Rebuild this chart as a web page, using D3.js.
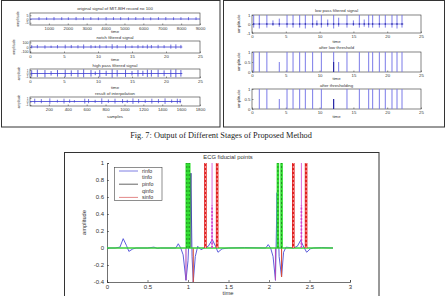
<!DOCTYPE html>
<html>
<head>
<meta charset="utf-8">
<script src="https://cdn.jsdelivr.net/npm/d3@7"></script>
<style>
  body { margin: 0; background: #fff; }
  svg { display: block; }
</style>
</head>
<body>
<svg width="447" height="296"></svg>
<script>
// ---------- data ----------
// original record (samples)
const origBeats = [476, 880, 1270, 1680, 2030, 2440, 2830, 3220, 3620, 4030, 4420, 4800, 5210, 5600, 6000, 6390, 6800, 7190, 7600, 7990, 8390, 8790];
const origHi = [2.5, 2.2, 2.6, 2.4, 2.3, 2.7, 2.4, 2.5, 2.2, 2.6, 2.4, 2.5, 2.3, 2.6, 2.4, 2.2, 2.5, 2.6, 2.3, 2.4, 2.5, 2.4];
const origLo = [-1.5, -1.2, -1.6, -1.4, -1.3, -1.5, -1.4, -1.2, -1.5, -1.6, -1.3, -1.4, -1.5, -1.3, -1.4, -1.6, -1.2, -1.5, -1.4, -1.3, -1.5, -1.4];

// beat times (s) of the filtered signals
const beatTimes = [0.25, 1.08, 2.2, 3.1, 4.04, 5.18, 6.07, 7.05, 7.89, 8.97, 9.6, 10.26, 11.2, 12.08, 12.82, 14.05, 15.0, 15.88, 16.6, 17.26, 17.85, 18.84, 19.72, 20.71, 21.45, 22.19];
const notchHi = [40, 45, 38, 30, 42, 50, 44, 40, 55, 42, 30, 46, 35, 60, 44, 48, 32, 45, 34, 50, 43, 47, 41, 52, 58, 45];
const notchLo = [-30, -28, -35, -20, -30, -32, -25, -30, -40, -28, -22, -30, -25, -45, -30, -33, -22, -30, -24, -35, -28, -30, -26, -36, -40, -30];
const hpHi = [0.9, 1.1, 1.0, 0.7, 1.0, 1.1, 0.9, 1.0, 1.2, 1.0, 0.6, 1.0, 0.8, 1.2, 1.0, 1.1, 0.7, 1.0, 0.8, 1.1, 1.0, 1.1, 0.9, 1.1, 1.2, 1.0];
const hpLo = [-0.9, -1.0, -1.1, -0.6, -0.9, -1.0, -0.8, -1.0, -1.1, -0.9, -0.5, -1.0, -0.7, -1.2, -0.9, -1.0, -0.6, -0.9, -0.7, -1.0, -0.9, -1.0, -0.8, -1.0, -1.1, -0.9];
const lpHi = [1.0, 1.0, 1.0, 0.4, 0.6, 1.0, 1.0, 1.0, 1.0, 1.0, 0.4, 1.0, 0.5, 1.0, 0.7, 1.0, 0.4, 1.0, 0.5, 1.0, 1.0, 1.0, 1.0, 1.0, 1.0, 1.0];
const lpLo = [-0.4, -0.5, -0.4, -0.2, -0.3, -0.4, -0.4, -0.4, -0.5, -0.4, -0.2, -0.4, -0.3, -0.5, -0.3, -0.4, -0.2, -0.4, -0.3, -0.4, -0.4, -0.4, -0.4, -0.4, -0.5, -0.4];

// interpolated signal (samples)
const interpBeats = [50, 120, 210, 290, 360, 420, 470, 580, 620, 690, 760, 830, 900, 980, 1030, 1090, 1150, 1220, 1290, 1360, 1430, 1500, 1560, 1590];
const interpHi = [0.8, 0.7, 0.9, 0.5, 0.8, 0.6, 0.4, 0.8, 0.7, 0.5, 0.9, 0.6, 0.8, 0.7, 0.5, 0.9, 0.7, 0.6, 0.8, 0.7, 0.9, 0.6, 0.8, 0.7];
const interpLo = [-0.6, -0.5, -0.7, -0.3, -0.6, -0.4, -0.3, -0.6, -0.5, -0.4, -0.7, -0.4, -0.6, -0.5, -0.4, -0.7, -0.5, -0.4, -0.6, -0.5, -0.7, -0.4, -0.6, -0.5];

// detections
const lowThrT = [0.25, 1.08, 2.2, 4.04, 5.18, 6.07, 7.05, 7.89, 8.97, 10.26, 12.08, 12.82, 14.05, 15.88, 17.26, 17.85, 18.84, 19.72, 20.71, 21.45, 22.19];
const lowThrV = [1, 1, 1, 0.5, 1, 1, 1, 1, 1, 1, 1, 0.5, 1, 1, 1, 1, 1, 1, 1, 1, 1];
const thrT = [1.08, 2.2, 4.04, 5.18, 6.07, 7.05, 7.89, 8.97, 10.26, 12.08, 14.05, 15.88, 17.26, 17.85, 18.84, 19.72, 20.71, 21.45, 22.19];
const thrV = [1, 1, 0.5, 1, 1, 1, 1, 1, 1, 0.5, 1, 1, 1, 1, 1, 1, 1, 1, 1];
const darkT = [12.08];

// ECG fiducial points chart
const ecgT = [0, 0.1, 0.16, 0.2, 0.24, 0.27, 0.32, 0.36, 0.5, 0.58, 0.62, 0.66, 0.85, 0.88, 0.91, 0.94, 0.975, 1.0, 1.02, 1.035, 1.05, 1.065, 1.09, 1.12, 1.16, 1.2, 1.25, 1.3, 1.34, 1.37, 1.42, 1.5, 1.7, 1.96, 1.99, 2.02, 2.05, 2.08, 2.1, 2.125, 2.155, 2.18, 2.21, 2.3, 2.35, 2.39, 2.43, 2.465, 2.51, 2.55, 2.65, 2.79];
const ecgV = [0, 0, 0.01, 0.11, 0.03, -0.04, -0.01, 0, 0, 0.01, -0.005, 0, 0, 0.05, 0, -0.08, -0.38, -0.15, 0.3, 0.88, -0.1, -0.4, -0.1, 0.02, -0.02, 0, 0.02, 0.1, 0.02, -0.05, -0.01, 0, 0.005, 0, 0.04, 0, -0.1, -0.38, 0.65, -0.1, -0.34, -0.05, 0.01, 0, 0.02, 0.09, 0.01, -0.05, -0.01, 0, 0.005, 0];
const greenT = [0.985, 1.015, 2.11, 2.155];
const redT = [1.215, 1.36, 2.3, 2.458];
const magentaT = [1.297, 2.4];
const qDipT = [0.975, 2.08];
const qDipV = [-0.38, -0.38];
const sDipT = [1.065, 2.155];
const sDipV = [-0.4, -0.34];
const yTicks = [-0.4, -0.2, 0, 0.2, 0.4, 0.6, 0.8, 1];
const xTicks = [0, 0.5, 1, 1.5, 2, 2.5, 3];
const legendNames = ["rinfo", "tinfo", "pinfo", "qinfo", "sinfo"];
const legendColors = ["#6f6fe0", "none", "#555", "none", "#e07a7a"];

// ---------- drawing ----------
const svg = d3.select("svg");
const sans = "'Liberation Sans', Arial, sans-serif";
const blue = "#3a3ad0";

// outer frames of the two upper figures
svg.append("rect").attr("x", 1.5).attr("y", 0.5).attr("width", 218.5).attr("height", 126.5)
  .attr("fill", "none").attr("stroke", "#333").attr("stroke-width", 1);
svg.append("rect").attr("x", 223.5).attr("y", 0.5).attr("width", 221).attr("height", 126.5)
  .attr("fill", "none").attr("stroke", "#333").attr("stroke-width", 1);

function panel(c) {
  const x = d3.scaleLinear().domain(c.xd).range([c.x0, c.x1]);
  const y = d3.scaleLinear().domain(c.yd).range([c.y1, c.y0]);
  const g = svg.append("g");
  g.append("rect")
    .attr("x", c.x0).attr("y", c.y0)
    .attr("width", c.x1 - c.x0).attr("height", c.y1 - c.y0)
    .attr("fill", "none").attr("stroke", "#333").attr("stroke-width", 0.6);

  const xa = g.append("g")
    .attr("transform", `translate(0,${c.y1})`)
    .call(d3.axisBottom(x).tickValues(c.xt).tickSize(-1.5).tickPadding(2).tickFormat(d => String(d)));
  const ya = g.append("g")
    .attr("transform", `translate(${c.x0},0)`)
    .call(d3.axisLeft(y).tickValues(c.yt).tickSize(-1.5).tickPadding(1.5).tickFormat(d => String(d)));
  [xa, ya].forEach(a => {
    a.select(".domain").remove();
    a.attr("font-family", sans);
    a.selectAll("line").attr("stroke", "#333").attr("stroke-width", 0.5);
    a.selectAll("text").attr("fill", "#333");
  });
  xa.attr("font-size", 4.3);
  ya.attr("font-size", c.yFont || 4.3);

  const cx = (c.x0 + c.x1) / 2;
  g.append("text").attr("x", cx).attr("y", c.titleY).attr("text-anchor", "middle")
    .attr("font-size", 4.3).attr("font-family", sans).attr("fill", "#333").text(c.title);
  g.append("text").attr("x", cx).attr("y", c.xlabY).attr("text-anchor", "middle")
    .attr("font-size", 4.3).attr("font-family", sans).attr("fill", "#333").text(c.xlab);
  g.append("text").attr("transform", `translate(${c.ylabX},${(c.y0 + c.y1) / 2}) rotate(-90)`)
    .attr("text-anchor", "middle").attr("font-size", c.yFont || 4.3).attr("font-family", sans)
    .attr("fill", "#333").text(c.ylab);
  return { x, y, g };
}

// spikes on a zero baseline
function spikes(p, xs, hi, lo, x0, x1, color, w) {
  p.g.append("line")
    .attr("x1", p.x(x0)).attr("x2", p.x(x1))
    .attr("y1", p.y(0)).attr("y2", p.y(0))
    .attr("stroke", color).attr("stroke-width", 0.8);
  p.g.selectAll(null).data(xs).enter().append("line")
    .attr("x1", d => p.x(d)).attr("x2", d => p.x(d))
    .attr("y1", (d, i) => p.y(hi[i])).attr("y2", (d, i) => p.y(lo[i]))
    .attr("stroke", color).attr("stroke-width", w);
}

// --- upper left figure ---
const p1 = panel({ x0: 30, x1: 200, y0: 13, y1: 25, xd: [0, 9000], yd: [-8, 8],
  xt: [1000, 2000, 3000, 4000, 5000, 6000, 7000, 8000, 9000], yt: [-5, 0, 5],
  title: "original signal of MIT-BIH record no 100", titleY: 10, xlab: "time", xlabY: 33, ylab: "amplitude", ylabX: 19, yFont: 3.6 });
spikes(p1, origBeats, origHi, origLo, 0, 9000, blue, 0.7);

const p2 = panel({ x0: 30, x1: 200, y0: 41, y1: 53, xd: [0, 25], yd: [-130, 130],
  xt: [0, 5, 10, 15, 20, 25], yt: [-100, 0, 100],
  title: "notch filtered signal", titleY: 38.5, xlab: "time", xlabY: 61, ylab: "amplitude", ylabX: 15, yFont: 3.6 });
spikes(p2, beatTimes, notchHi, notchLo, 0.1, 22.4, blue, 0.7);

const p3 = panel({ x0: 30, x1: 200, y0: 69, y1: 78, xd: [0, 25], yd: [-1.3, 1.3],
  xt: [0, 5, 10, 15, 20, 25], yt: [-1, 0, 1],
  title: "high pass filtered signal", titleY: 66.5, xlab: "time", xlabY: 88.5, ylab: "amplitude", ylabX: 20, yFont: 3.1 });
spikes(p3, beatTimes, hpHi, hpLo, 0.1, 22.4, blue, 0.8);

const p4 = panel({ x0: 30, x1: 200, y0: 97, y1: 106, xd: [0, 1800], yd: [-1.3, 1.3],
  xt: [200, 400, 600, 800, 1000, 1200, 1400, 1600, 1800], yt: [-1, 0, 1],
  title: "result of interpolation", titleY: 94.5, xlab: "samples", xlabY: 118, ylab: "amplitude", ylabX: 20, yFont: 3.1 });
spikes(p4, interpBeats, interpHi, interpLo, 0, 1600, blue, 0.7);

// --- upper right figure ---
const r1 = panel({ x0: 252, x1: 421, y0: 15, y1: 33, xd: [0, 25], yd: [-1, 1],
  xt: [0, 5, 10, 15, 20, 25], yt: [-1, 0, 1],
  title: "low pass filtered signal", titleY: 11.5, xlab: "time", xlabY: 42.5, ylab: "amplitude", ylabX: 240 });
spikes(r1, beatTimes, lpHi, lpLo, 0.1, 22.4, "#6d6de6", 0.9);
r1.g.selectAll(null).data(beatTimes).enter().append("circle")
  .attr("cx", d => r1.x(d)).attr("cy", r1.y(0)).attr("r", 0.8).attr("fill", "#1c1c9a");

function bars(p, ts, vs, color, w) {
  p.g.selectAll(null).data(ts).enter().append("line")
    .attr("x1", d => p.x(d)).attr("x2", d => p.x(d))
    .attr("y1", p.y(0)).attr("y2", (d, i) => p.y(vs[i]))
    .attr("stroke", color).attr("stroke-width", w);
}

const r2 = panel({ x0: 252, x1: 421, y0: 52, y1: 72, xd: [0, 25], yd: [0, 1],
  xt: [0, 5, 10, 15, 20, 25], yt: [0, 0.5, 1],
  title: "after low threshold", titleY: 49, xlab: "time", xlabY: 80, ylab: "amplitude", ylabX: 240 });
bars(r2, lowThrT, lowThrV, "#7b7be8", 1);
bars(r2, darkT, [0.5], "#1a1a9a", 1);

const r3 = panel({ x0: 252, x1: 421, y0: 89, y1: 109, xd: [0, 25], yd: [0, 1],
  xt: [0, 5, 10, 15, 20, 25], yt: [0, 0.5, 1],
  title: "after thresholding", titleY: 86.5, xlab: "time", xlabY: 118, ylab: "amplitude", ylabX: 240 });
bars(r3, thrT, thrV, "#7b7be8", 1);
bars(r3, darkT, [0.5], "#1a1a9a", 1);

// caption
svg.append("text").attr("x", 221).attr("y", 138).attr("text-anchor", "middle")
  .attr("font-family", "'Liberation Serif', 'Times New Roman', serif").attr("font-size", 8.3)
  .attr("fill", "#222").text("Fig. 7: Output of Different Stages of Proposed Method");

// --- lower figure: ECG fiducial points ---
svg.append("rect").attr("x", 64.5).attr("y", 152.5).attr("width", 314.5).attr("height", 150)
  .attr("fill", "none").attr("stroke", "#333").attr("stroke-width", 1);

const x = d3.scaleLinear().domain([0, 3]).range([107, 350]);
const y = d3.scaleLinear().domain([-0.4, 1]).range([282, 163]);
const chart = svg.append("g");

const xAxis = chart.append("g").attr("transform", `translate(0,${y(-0.4)})`)
  .call(d3.axisBottom(x).tickValues(xTicks).tickSize(-2).tickPadding(3).tickFormat(d => String(d)));
const yAxis = chart.append("g").attr("transform", `translate(${x(0)},0)`)
  .call(d3.axisLeft(y).tickValues(yTicks).tickSize(-2).tickPadding(3).tickFormat(d => String(d)));
[xAxis, yAxis].forEach(a => {
  a.attr("font-size", 6).attr("font-family", sans);
  a.select(".domain").attr("stroke", "#333").attr("stroke-width", 0.7);
  a.selectAll("line").attr("stroke", "#333").attr("stroke-width", 0.6);
  a.selectAll("text").attr("fill", "#333");
});

chart.append("text").attr("x", 228).attr("y", 159).attr("text-anchor", "middle")
  .attr("font-family", sans).attr("font-size", 5.8).attr("fill", "#333").text("ECG fiducial points");
chart.append("text").attr("x", 228).attr("y", 294.5).attr("text-anchor", "middle")
  .attr("font-family", sans).attr("font-size", 5.8).attr("fill", "#333").text("time");
chart.append("text").attr("transform", `translate(86,${(y(1) + y(-0.4)) / 2}) rotate(-90)`)
  .attr("text-anchor", "middle").attr("font-family", sans).attr("font-size", 5.8)
  .attr("fill", "#333").text("amplitude");

const ecg = ecgT.map((t, i) => ({ t, v: ecgV[i] }));
const line = d3.line().x(d => x(d.t)).y(d => y(d.v));

chart.append("path").datum(ecg)
  .attr("fill", "none").attr("stroke", "#4b4bd6").attr("stroke-width", 0.9).attr("d", line);

// dips marked in q/s colours
function stem(ts, vs, color, w, dash) {
  chart.selectAll(null).data(ts).enter().append("line")
    .attr("x1", d => x(d)).attr("x2", d => x(d))
    .attr("y1", y(0)).attr("y2", (d, i) => y(vs[i]))
    .attr("stroke", color).attr("stroke-width", w)
    .attr("stroke-dasharray", dash || null);
}
stem(qDipT, qDipV, "#b04ab8", 1.1);
stem(sDipT, sDipV, "#d8503c", 1.1);
stem([1.035], [0.88], "#26264e", 0.9);
stem([2.1], [0.65], "#3f86e6", 1);

// green zero line
chart.append("line").attr("x1", x(0)).attr("x2", x(2.79)).attr("y1", y(0)).attr("y2", y(0))
  .attr("stroke", "#3ad03a").attr("stroke-width", 1.3);

// green markers
stem(greenT, greenT.map(() => 1), "#33e033", 2.6);
stem(greenT, greenT.map(() => 1), "#1a7a1a", 0.8, "2,2");
// red markers
stem(redT, redT.map(() => 1), "#e02020", 2.6);
stem(redT, redT.map(() => 1), "#ffd0d0", 0.8, "2,2");
// magenta markers
stem(magentaT, magentaT.map(() => 1), "#d040d0", 0.8);
stem(magentaT, magentaT.map(() => 0.5), "#d040d0", 1.6, "2,1.5");

// legend
const lg = chart.append("g");
lg.append("rect").attr("x", 114.5).attr("y", 167.5).attr("width", 47.5).attr("height", 33)
  .attr("fill", "#fff").attr("stroke", "#444").attr("stroke-width", 0.6);
legendNames.forEach((n, i) => {
  const ly = 171 + i * 6.6;
  lg.append("line").attr("x1", 119).attr("x2", 138).attr("y1", ly).attr("y2", ly)
    .attr("stroke", legendColors[i]).attr("stroke-width", 0.9);
  lg.append("text").attr("x", 142).attr("y", ly + 1.8).attr("font-family", sans)
    .attr("font-size", 5.3).attr("fill", "#333").text(n);
});
</script>
</body>
</html>
